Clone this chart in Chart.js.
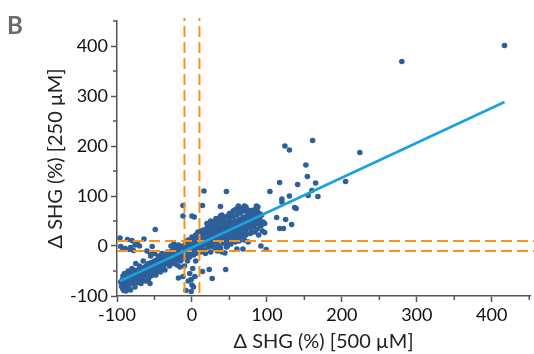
<!DOCTYPE html>
<html>
<head>
<meta charset="utf-8">
<script src="https://cdn.jsdelivr.net/npm/chart.js@4/dist/chart.umd.min.js"></script>
<style>
  html, body { margin: 0; padding: 0; background: #fff; }
  #wrap { width: 534px; height: 354px; }
</style>
</head>
<body>
<div id="wrap"><canvas id="shgChart" width="534" height="354"></canvas></div>
<script>
// axis labels and ticks
const xTitle = 'Δ SHG (%) [500 µM]';
const yTitle = 'Δ SHG (%) [250 µM]';
const xTickValues = [-100, -50, 0, 50, 100, 150, 200, 250, 300, 350, 400, 450];
const yTickValues = [-100, -50, 0, 50, 100, 150, 200, 250, 300, 350, 400, 450];

// thresholds (dashed orange) at +/-10 %
const thresholds = [-10, 10];

// linear fit, end points
const fitX = [-96, 417];
const fitY = [-70, 288];

// [500 µM, 250 µM] pairs, main band along the fit
const bandLeft = [
  [-95,-72],[-94,-80],[-93,-68],[-92,-86],[-92,-75],[-91,-78],[-90,-63],[-90,-71],[-89,-82],[-88,-67],
  [-88,-74],[-87,-60],[-86,-70],[-85,-64],[-85,-77],[-84,-58],[-83,-68],[-82,-62],[-81,-55],[-80,-66],
  [-80,-72],[-79,-59],[-78,-52],[-77,-64],[-76,-57],[-75,-49],[-75,-70],[-74,-61],[-73,-53],[-72,-66],
  [-71,-47],[-70,-58],[-69,-51],[-68,-62],[-67,-45],[-66,-55],[-65,-49],[-64,-60],[-63,-42],[-62,-52],
  [-61,-46],[-60,-56],[-60,-38],[-84,-84],[-78,-76],[-72,-73],[-66,-68],[-58,-66],[-52,-58],[-45,-50],
  [-56,-75],[-91,-89],[-93,-83],[-59,-44],[-58,-35],[-57,-50],[-56,-40],[-55,-47],[-54,-33],[-53,-43],
  [-52,-38],[-51,-52],[-50,-30],[-50,-42],[-49,-36],[-48,-46],[-47,-28],[-46,-39],[-45,-33],[-44,-43],
  [-43,-25],[-42,-36],[-41,-30],[-40,-40],[-40,-22],[-39,-33],[-38,-27],[-37,-37],[-36,-20],[-35,-31],
  [-34,-25],[-33,-35],[-32,-18],[-31,-28],[-30,-22],[-30,-33],
  [-65,-30],[-70,-40],[-75,-35],[-62,-70],[-55,-60],[-48,-58],[-42,-52],[-36,-48],[-85,-50],[-80,-45],
  [-90,-55],[-88,-90],[-82,-88],[-76,-82],[-68,-75],[-92,-60],[-55,-20],[-50,-15],[-45,-20],[-40,-15],
  [-38,-45],[-33,-12]
];

const bandCentre = [
  [-29,-26],[-28,-15],[-28,-30],[-27,-21],[-26,-12],[-26,-27],[-25,-18],[-24,-24],[-24,-8],[-23,-14],
  [-22,-28],[-22,-20],[-21,-10],[-20,-16],[-20,-23],[-19,-5],[-18,-12],[-18,-19],[-17,-25],[-16,-8],
  [-16,-15],[-15,-2],[-15,-20],[-14,-11],[-13,-6],[-13,-17],[-12,-13],[-12,0],[-11,-8],[-11,-22],
  [-10,-4],[-10,-14],[-9,-10],[-9,3],[-8,-6],[-8,-18],[-7,-1],[-7,-12],[-6,-8],[-6,5],
  [-5,-3],[-5,-15],[-4,-10],[-4,2],[-3,-5],[-3,8],[-2,-1],[-2,-12],[-1,4],[-1,-7],
  [0,-3],[0,10],[0,-15],[1,2],[1,-9],[2,6],[2,-4],[3,12],[3,0],[4,-6],
  [4,8],[5,3],[5,15],[6,-2],[6,10],[7,5],[7,18],[8,0],[8,12],[9,7],
  [9,-5],[10,14],[10,3],[11,20],[11,9],[12,5],[12,16],[13,-1],[13,11],[14,22],
  [14,8],[15,14],[15,2],[16,18],[16,26],[17,10],[17,5],[18,15],[18,28],[19,8],
  [19,20],[20,12],[20,24],[21,3],[21,17],[22,30],[22,10],[23,20],[23,14],[24,7],
  [24,26],[25,16],[25,33],[26,22],[26,11],[27,28],[27,4],[28,18],[28,24],[29,14],
  [29,35],[30,21],[30,8],[-35,-22],[-27,-10],[-19,-28],[-14,-4],[-9,-20],[-2,5],[3,-10],
  [8,-8],[12,24],[5,22],[8,25],[12,30],[20,45],[25,50],[28,40],[-21,-3],[-6,-20],
  [-30,-40],[-25,-35],[-22,-5],[-18,2],[-15,-30],[-12,-25],[-8,8],[-5,12],[-3,-22],[0,18],
  [2,-18],[5,-15],[8,28],[10,-10],[12,-12],[15,32],[17,-8],[20,36],[22,-2],[24,42],
  [26,0],[28,48],[30,-3],[-28,0],[-24,5],[-20,-38],[-16,-42],[-6,-30],[18,-15],[25,-12]
];

const bandRight = [
  [31,27],[31,40],[32,16],[32,24],[33,33],[33,11],[34,22],[34,30],[35,44],[35,17],
  [36,26],[36,36],[37,13],[37,29],[38,40],[38,21],[39,32],[39,48],[40,25],[40,17],
  [41,36],[41,30],[42,52],[42,20],[43,33],[43,28],[44,42],[44,14],[45,38],[45,26],
  [46,31],[46,48],[47,22],[47,36],[48,44],[48,29],[49,19],[49,39],[50,34],[50,55],
  [51,26],[51,42],[52,37],[52,31],[53,47],[53,20],[54,40],[55,33],[55,58],[56,45],
  [56,27],[57,38],[58,50],[58,22],[59,42],[60,35],[60,62],[61,46],[61,27],[62,40],
  [63,53],[63,32],[64,45],[65,38],[65,66],[66,50],[66,25],[67,42],[68,57],[68,35],
  [69,48],[70,40],[70,70],[71,52],[72,30],[72,45],[73,60],[74,38],[74,50],[75,72],
  [75,44],[76,55],[77,36],[78,48],[79,62],[80,42],[80,28],[81,52],[82,38],[83,58],
  [84,45],[85,67],[86,50],[87,34],[88,60],[89,44],[90,53],[92,40],[94,30],[95,48],
  [35,2],[38,-4],[42,6],[46,-2],[52,4],[58,8],[63,10],[70,12],[75,8],[32,55],
  [38,60],[40,52],[50,65],[55,70],[60,75],[62,68],[72,78],[78,70],[86,80],[88,78],
  [90,65],[70,80],[33,46],[36,52],[40,62],[43,58],[45,5],[48,60],[50,10],[53,65],
  [55,12],[57,72],[60,15],[62,80],[64,20],[66,75],[68,18],[72,22],[76,65],[78,25],
  [82,72],[84,28],[87,70],[89,22],[91,58],[93,62],[34,-10],[40,-12],[44,-14]
];

// scattered points away from the band
const scattered = [
  [-96,16],[-86,13],[-80,11],[-64,14],[-73,5],[-70,0],[-76,2],[-95,-1],[-89,-5],[-83,-7],
  [-53,-1],[-82,-3],[-92,-7],[-78,-9],[-60,-10],[-56,-13],[-49,33],
  [-12,81],[-12,60],[3,58],[0,60],[14,81],[16,110],[46,109],[38,79],
  [-18,-64],[-12,-61],[-8,-89],[-1,-91],[0,-78],[-1,-67],[4,-61],[-3,-55],[1,-45],[14,-51],
  [23,-47],[27,-65],[45,-47],[-5,-70],[2,-82],[-10,-40],[5,-30],[47,-1],[37,-2],[60,-6],[68,-6],
  [97,27],[97,45],[92,0],[99,-7]
];

// large responders
const outliers = [
  [417,401],[280,369],[161,211],[124,200],[130,192],[224,187],[152,162],[154,139],[205,129],[117,127],
  [165,126],[141,123],[104,109],[160,111],[155,101],[168,99],[130,100],[120,94],[120,88],[137,77],
  [139,75],[113,57],[125,53],[117,35],[122,35],[133,43]
];

const allPoints = bandLeft.concat(bandCentre, bandRight, scattered, outliers)
  .map(p => ({ x: p[0], y: p[1] }));

const orange = '#f7941d';
const dotBlue = '#2f5f98';
const fitBlue = '#1ba1df';

const datasets = [
  {
    label: 'fit',
    type: 'line',
    data: fitX.map((x, i) => ({ x: x, y: fitY[i] })),
    borderColor: fitBlue,
    borderWidth: 2.5,
    pointRadius: 0,
    order: 0
  }
];

thresholds.forEach(t => {
  datasets.push({
    type: 'line',
    data: [{ x: t, y: -94 }, { x: t, y: 456 }],
    borderColor: orange, borderWidth: 2, borderDash: [11, 5],
    pointRadius: 0, clip: false, order: 1
  });
  datasets.push({
    type: 'line',
    data: [{ x: -100, y: t }, { x: 460, y: t }],
    borderColor: orange, borderWidth: 2, borderDash: [11, 5],
    pointRadius: 0, clip: false, order: 1
  });
});

datasets.push({
  label: 'genes',
  data: allPoints,
  backgroundColor: dotBlue,
  borderWidth: 0,
  pointRadius: 2.8,
  order: 2
});

// shorter tick marks for the unlabeled 50s
const minorTicks = {
  id: 'minorTicks',
  afterDraw(chart) {
    const ctx = chart.ctx;
    const xs = chart.scales.x, ys = chart.scales.y;
    ctx.save();
    ctx.strokeStyle = '#555';
    ctx.lineWidth = 1.5;
    xTickValues.filter(v => v % 100 !== 0).forEach(v => {
      const px = xs.getPixelForValue(v);
      ctx.beginPath(); ctx.moveTo(px, xs.top); ctx.lineTo(px, xs.top + 4); ctx.stroke();
    });
    yTickValues.filter(v => v % 100 !== 0).forEach(v => {
      const py = ys.getPixelForValue(v);
      ctx.beginPath(); ctx.moveTo(ys.right, py); ctx.lineTo(ys.right - 4, py); ctx.stroke();
    });
    ctx.restore();
  }
};

const panelLetter = {
  id: 'panelLetter',
  afterDraw(chart) {
    const ctx = chart.ctx;
    ctx.save();
    ctx.font = 'bold 24px Lato';
    ctx.fillStyle = '#6b6b6b';
    ctx.textBaseline = 'alphabetic';
    ctx.fillText('B', 7, 34);
    ctx.restore();
  }
};

const tickColor = c => (c.tick && c.tick.value % 100 === 0) ? '#555' : 'rgba(0,0,0,0)';

new Chart(document.getElementById('shgChart'), {
  type: 'scatter',
  data: { datasets: datasets },
  options: {
    responsive: false,
    animation: false,
    devicePixelRatio: 1,
    layout: { padding: { top: 21, right: 0, bottom: 0, left: 0 } },
    plugins: { legend: { display: false }, tooltip: { enabled: false } },
    scales: {
      x: {
        type: 'linear', min: -100, max: 451,
        afterBuildTicks: s => { s.ticks = xTickValues.map(v => ({ value: v })); },
        afterFit: s => { s.height = 58; },
        border: { color: '#555', width: 1.5 },
        grid: { drawOnChartArea: false, tickLength: 6, tickColor: tickColor, tickWidth: 1.5 },
        ticks: {
          padding: 2, maxRotation: 0, autoSkip: false,
          color: '#111', font: { family: 'Lato', size: 18 },
          callback: v => v % 100 === 0 ? String(v) : ''
        },
        title: {
          display: true, text: xTitle, color: '#222',
          font: { family: 'Lato', size: 20 }, padding: { top: 0, bottom: 0 }
        }
      },
      y: {
        type: 'linear', min: -100, max: 450,
        afterBuildTicks: s => { s.ticks = yTickValues.map(v => ({ value: v })); },
        afterFit: s => { s.width = 117; },
        border: { color: '#555', width: 1.5 },
        grid: { drawOnChartArea: false, tickLength: 6, tickColor: tickColor, tickWidth: 1.5 },
        ticks: {
          padding: 3, autoSkip: false,
          color: '#111', font: { family: 'Lato', size: 18 },
          callback: v => v % 100 === 0 ? String(v) : ''
        },
        title: {
          display: true, text: yTitle, color: '#222',
          font: { family: 'Lato', size: 20 }, padding: { top: 44, bottom: 0 }
        }
      }
    }
  },
  plugins: [minorTicks, panelLetter]
});
</script>
</body>
</html>
